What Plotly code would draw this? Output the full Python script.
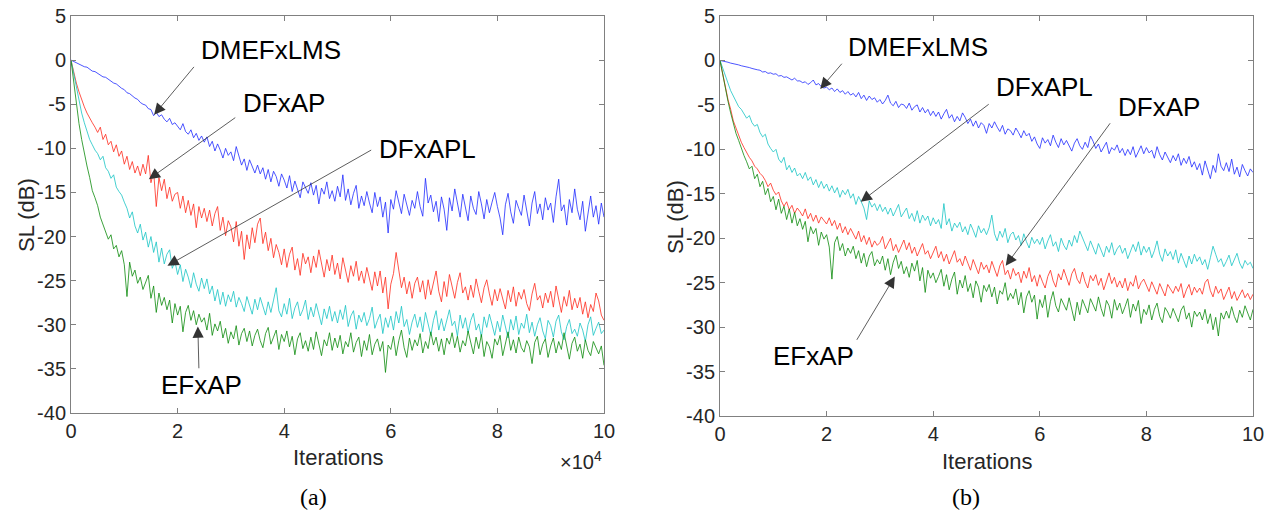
import plotly.graph_objects as go

# sample positions (iterations), one every 500 iterations
iters = [500 * k for k in range(201)]

# ---- panel (a) ----
a_dmefxlms = [
    0, -0.15, -0.3, -0.4, -0.55, -0.75, -0.8, -1.05, -1.25, -1.3,
    -1.5, -1.6, -1.9, -1.95, -2.2, -2.35, -2.6, -2.7, -3.0, -3.2,
    -3.35, -3.7, -3.8, -4.1, -4.3, -4.45, -4.8, -5.0, -5.1, -5.5,
    -5.6, -6.3, -5.9, -6.4, -6.2, -6.7, -7.0, -6.6, -7.3, -7.1,
    -7.5, -7.9, -7.2, -8.1, -8.4, -7.9, -8.8, -8.3, -9.1, -8.6,
    -9.3, -8.7, -9.8, -9.2, -10.3, -9.5, -10.2, -11.1, -10.0, -10.8,
    -10.4, -11.4, -9.8, -11.0, -11.9, -11.2, -12.5, -11.3, -12.0, -12.8,
    -11.9, -12.9, -12.2, -13.5, -12.4, -13.8, -12.6, -13.2, -14.3, -12.9,
    -13.6, -14.5, -13.1, -14.9, -13.7, -14.6, -15.6, -13.8, -14.4, -15.1,
    -13.9, -15.3, -14.2, -16.3, -14.5, -15.2, -13.8, -15.7, -14.8, -16.0,
    -14.3, -15.5, -13.0, -15.9, -14.6, -16.4, -15.1, -14.2, -16.8, -15.4,
    -16.5, -14.9, -16.2, -17.3, -15.0, -16.6, -15.5, -17.8, -16.1, -19.6,
    -15.8, -16.9, -14.8, -16.3, -17.4, -15.2, -16.5, -17.6, -15.9, -16.8,
    -14.9, -16.6, -17.7, -13.4, -16.2, -15.3, -17.2, -16.0, -18.3, -15.5,
    -16.9, -19.3, -15.6, -17.1, -14.6, -16.4, -17.8, -15.2, -16.7, -18.2,
    -15.4, -16.8, -17.5, -14.9, -16.3, -18.0, -15.8, -17.3, -16.1, -15.0,
    -16.6, -17.9, -19.8, -16.4, -15.1, -17.2, -18.5, -15.9, -16.8, -17.6,
    -15.3, -16.9, -18.8, -16.2, -14.9, -17.4, -16.3, -18.1, -15.6, -17.0,
    -16.2, -18.4, -15.5, -13.5, -17.1, -16.4, -18.7, -15.8, -17.3, -14.6,
    -16.9, -18.1, -16.0, -19.4, -17.5, -15.4, -17.8, -16.5, -18.6, -16.2,
    -17.8,
]
a_dfxap = [
    0, -1.4, -2.6, -3.6, -4.5, -5.3, -6.0, -6.6, -7.1, -7.6,
    -8.2, -7.6, -9.0, -8.4, -9.6, -9.2, -10.4, -9.6, -10.9, -10.3,
    -11.8, -10.9, -12.4, -11.5, -12.8, -12.0, -13.1, -11.8, -12.9, -10.8,
    -13.9, -12.6, -16.6, -13.3, -14.8, -13.5, -15.7, -14.4, -16.0, -15.2,
    -15.0, -16.8, -15.4, -17.3, -15.9, -17.6, -16.3, -19.0, -16.6, -17.9,
    -16.8, -18.3, -17.0, -18.8, -17.4, -16.6, -19.3, -17.8, -19.9, -18.2,
    -18.9, -20.6, -18.3, -21.1, -19.4, -22.6, -19.8, -21.4, -19.0, -20.7,
    -18.6, -17.9, -20.8, -19.5, -21.6, -20.2, -22.4, -20.9, -21.8, -23.2,
    -21.4, -23.5, -22.0, -21.2, -23.8, -22.5, -24.4, -21.9, -23.1, -22.3,
    -24.1, -22.2, -23.5, -21.5, -23.0, -24.6, -22.6, -23.9, -22.1, -24.3,
    -23.0, -24.8, -22.4, -23.7, -25.2, -23.3, -24.5, -22.8, -25.0, -23.9,
    -25.3, -23.5, -24.8, -26.1, -24.0, -25.6, -23.9, -26.4, -24.6, -28.2,
    -25.4, -24.2, -21.8, -23.9, -25.8, -24.6, -26.5, -25.1, -27.0, -25.3,
    -24.6, -26.3, -25.0, -27.1, -24.9, -26.6, -25.4, -23.9, -26.2, -27.4,
    -25.1, -26.8, -24.3, -25.6, -27.0, -25.2, -24.1, -26.4, -25.7, -27.2,
    -25.5, -26.9, -24.8, -26.2, -27.5, -25.8, -24.9, -26.5, -27.8, -26.0,
    -27.3, -25.9, -27.0, -28.2, -26.1, -27.4, -25.7, -27.9, -26.3, -27.1,
    -26.0, -27.6, -28.4, -26.5, -25.3, -27.2, -26.7, -28.1, -26.4, -27.5,
    -26.2, -28.0, -25.6, -27.3, -28.6, -26.8, -27.9, -26.1, -28.3, -27.0,
    -28.1, -26.9, -28.8, -27.4, -29.2, -27.7, -28.5, -26.4, -27.3, -28.9,
    -29.5,
]
a_dfxapl = [
    0, -1.6, -3.1, -4.6, -6.0, -7.1, -8.2, -9.0, -9.6, -10.2,
    -10.6, -11.3, -10.9, -12.2, -12.6, -13.4, -13.0, -14.4, -14.9, -15.3,
    -16.1, -16.8, -17.9, -17.2, -18.8, -19.6, -18.6, -20.4, -19.5, -21.2,
    -20.0, -21.8, -20.6, -22.9, -21.3, -23.1, -22.0, -21.5, -23.6, -22.8,
    -24.3, -23.2, -25.1, -23.7, -24.6, -25.8, -24.1, -25.4, -26.2, -24.7,
    -25.9, -24.8, -26.5, -25.6, -27.3, -26.0, -27.7, -26.3, -27.9, -26.6,
    -27.4, -26.2, -28.0, -26.9, -27.6, -28.5, -26.8, -27.9, -28.8, -27.1,
    -28.3, -26.9, -27.8, -28.9, -27.4, -28.6, -27.2, -25.8, -28.4, -29.1,
    -27.6, -28.8, -27.0, -29.3, -28.1, -27.4, -29.0, -28.3, -27.2, -29.4,
    -28.0, -29.1, -27.6, -28.7, -30.0, -28.2, -29.3, -27.9, -29.6, -28.5,
    -29.8, -28.3, -29.4, -27.8, -30.2, -29.0, -28.4, -30.5, -28.9, -29.7,
    -28.6, -30.1, -29.3, -28.0, -30.4, -29.5, -28.8, -31.0, -29.2, -30.3,
    -29.0, -30.6, -28.5, -29.8, -27.9, -30.2, -29.4, -31.1, -29.7, -28.8,
    -30.3, -29.1, -30.8, -28.6, -29.9, -31.2, -29.5, -28.4, -30.6, -29.3,
    -30.7, -29.4, -28.3, -30.1, -29.6, -31.3, -28.9, -30.4, -29.2, -30.9,
    -29.5, -28.7, -30.6, -29.9, -31.4, -29.1, -30.3, -28.8, -30.0, -31.2,
    -29.6, -30.8, -28.9, -30.2, -31.5, -29.4, -30.6, -29.0, -31.1, -29.8,
    -30.4, -28.8, -30.9, -29.7, -31.3, -30.0, -29.2, -30.7, -31.6, -29.5,
    -30.1, -31.4, -29.6, -28.9, -30.8, -31.7, -30.2, -29.4, -31.0, -30.5,
    -31.3, -29.8, -30.6, -31.9, -30.0, -29.1, -31.2, -30.4, -29.7, -31.0,
    -30.6,
]
a_efxap = [
    0, -2.6, -5.0, -7.2, -9.0, -10.6, -12.0, -13.3, -14.8, -15.6,
    -16.5, -17.8, -18.6, -19.4, -20.3, -19.8, -21.4, -21.0, -22.3, -21.6,
    -23.2, -26.8, -22.9, -24.5, -23.8, -25.3, -24.6, -26.0, -25.2, -24.4,
    -27.0, -25.6, -28.6, -26.4, -27.8, -26.9, -28.3, -27.2, -29.8, -27.6,
    -28.9, -27.9, -30.8, -28.6, -27.8, -29.5, -28.4, -30.0, -28.8, -29.7,
    -29.2, -30.6, -28.7, -31.2, -29.9, -30.7, -29.6, -31.5, -30.4, -32.1,
    -30.8, -31.6, -30.1, -32.3, -31.0, -30.4, -31.9, -30.7, -32.4, -31.2,
    -30.5, -31.8, -32.6, -31.0, -30.3, -32.2, -31.4, -30.6, -32.8, -31.1,
    -31.9, -30.7, -32.5, -31.3, -33.4, -31.6, -30.9, -32.7, -31.8, -33.0,
    -31.4, -32.8, -30.8, -32.1, -33.5, -31.7, -32.4, -30.9, -32.9, -31.5,
    -32.6, -31.2, -33.3, -31.9, -32.5, -30.9, -33.1, -32.0, -31.4, -33.6,
    -31.8, -32.9, -31.1, -33.4, -32.2, -31.6, -33.0, -31.9, -35.4, -32.3,
    -32.8, -31.3, -33.5, -31.8, -30.6, -32.6, -33.7, -31.5, -32.9, -31.7,
    -32.4, -31.0, -33.2, -31.9, -32.7, -30.8, -32.3, -31.4, -33.0, -31.6,
    -33.4, -31.5, -32.2, -30.9, -32.6, -31.3, -33.1, -31.8, -32.4, -30.7,
    -32.0, -33.3, -31.4, -32.7, -31.1, -33.6, -31.9, -32.5, -33.8, -31.6,
    -32.3, -31.2, -33.5, -32.0, -30.8, -32.9, -31.7, -33.2, -31.4, -32.6,
    -33.1, -31.8, -32.5, -34.4, -32.0, -31.3, -33.4, -32.2, -31.6, -33.7,
    -32.4, -31.5, -33.2, -31.9, -32.8, -30.9, -32.6, -33.9, -32.1, -31.4,
    -33.0, -32.2, -33.8, -31.7, -32.9, -33.5, -31.9, -32.6, -33.3, -32.4,
    -34.6,
]

# ---- panel (b) ----
b_dmefxlms = [
    0, -0.05, -0.15, -0.2, -0.3, -0.35, -0.45, -0.5, -0.6, -0.65,
    -0.75, -0.8, -0.9, -1.0, -1.05, -1.1, -1.3, -1.25, -1.45, -1.4,
    -1.55, -1.5, -1.75, -1.7, -1.9, -1.85, -2.05, -2.2, -2.0, -2.3,
    -2.3, -2.5, -2.4, -2.7, -2.5, -2.2, -2.75, -2.6, -2.95, -3.1,
    -3.0, -3.3, -3.1, -3.5, -3.2, -3.6, -3.4, -3.8, -3.5, -3.9,
    -3.7, -4.1, -3.6, -4.3, -3.9, -4.5, -4.0, -4.4, -4.2, -4.7,
    -4.4, -4.9, -4.5, -3.9, -4.8, -5.1, -4.6, -5.3, -4.9, -5.0,
    -5.4, -4.8, -5.6, -5.2, -5.0, -5.8, -5.3, -5.9, -5.5, -6.2,
    -5.7, -6.3, -5.8, -6.6, -6.0, -5.5, -6.5, -6.1, -6.9, -6.3,
    -6.8, -5.9, -6.4, -7.1, -6.6, -7.4, -6.8, -7.6, -7.0, -7.3,
    -8.2, -7.1, -7.6, -6.9, -7.5, -8.0, -7.3, -8.3, -7.7, -7.9,
    -8.4, -7.6, -8.1, -8.7, -7.9, -8.5, -8.2, -9.1, -8.6, -9.4,
    -9.9, -8.7, -9.3, -8.9, -9.6, -8.4, -9.2, -9.8, -8.8, -9.5,
    -9.0, -9.7, -10.2, -9.3, -8.8, -9.6, -10.0, -9.2, -9.8, -8.5,
    -9.1, -9.9, -9.4, -10.3, -9.7, -9.2, -10.5, -9.8, -10.1, -9.5,
    -10.4, -9.9, -10.7, -10.0, -10.6, -9.7, -10.9, -10.2, -9.6, -10.5,
    -9.8, -10.4, -10.1, -11.0, -9.7, -10.6, -11.2, -10.3, -10.9, -11.5,
    -10.7, -11.3, -10.5, -11.8, -11.0, -11.6, -10.8, -12.0, -11.4, -12.3,
    -11.6, -12.9, -11.3, -12.2, -13.3, -11.8, -12.6, -10.5, -11.9, -12.4,
    -11.5, -12.5, -11.1, -12.8, -12.0, -13.1, -11.7, -12.4, -13.0, -12.2,
    -12.6,
]
b_dfxapl = [
    0, -0.9, -1.8, -2.7, -3.4, -4.0, -4.6, -5.2, -5.5, -6.0,
    -6.5, -6.2, -7.0, -7.4, -7.2, -8.1, -8.6, -8.3, -9.4, -9.9,
    -10.3, -10.0, -11.1, -11.5, -10.9, -12.3, -11.8, -12.6, -12.1, -13.0,
    -12.7, -13.3, -12.6, -13.5, -13.1, -14.0, -13.4, -14.3, -13.6, -14.4,
    -13.9, -14.7, -14.1, -14.9, -14.3, -15.4, -14.6, -15.1, -14.5, -15.5,
    -15.0, -16.2, -15.3, -15.9, -16.6, -17.9, -15.8, -16.5, -16.1, -16.9,
    -16.2, -17.0, -16.5, -17.3, -16.6, -17.5, -16.8, -16.2, -17.6, -17.1,
    -16.6, -17.8, -17.2, -18.1, -16.9, -18.3, -17.4, -18.0, -17.5, -18.6,
    -17.7, -18.4, -17.9, -18.9, -16.1, -18.5, -17.8, -19.2, -18.3, -18.8,
    -18.2, -19.3, -18.7, -19.6, -18.4, -19.1, -19.9, -18.6, -19.4, -18.9,
    -19.6, -18.8, -17.4, -19.5, -20.3, -19.2, -19.9, -18.9, -20.5, -19.6,
    -19.3, -20.2, -19.7, -20.8, -19.5, -20.4, -21.1, -19.9, -20.6, -20.1,
    -20.7, -19.9, -21.2, -20.3, -19.6, -20.9, -20.4, -21.5, -20.0, -20.8,
    -21.3, -20.2, -20.9, -19.7, -20.5, -19.2, -19.9, -20.8, -21.4, -20.3,
    -21.0, -21.8, -20.6, -21.3, -22.1, -20.9, -21.6, -20.5, -21.9, -21.2,
    -20.8, -21.7, -21.1, -22.3, -21.4, -20.7, -21.5, -20.4, -21.9, -20.9,
    -21.6, -21.0, -22.2, -21.4, -20.3, -21.8, -22.6, -21.2, -22.0, -21.5,
    -22.4, -21.3, -22.8, -21.7, -22.5, -23.3, -22.0, -22.9, -21.8, -22.6,
    -22.1, -23.0, -22.4, -23.5, -22.2, -20.9, -21.8, -22.7, -22.3, -23.2,
    -22.6, -21.9, -23.1, -22.4, -21.7, -22.8, -23.4, -22.5, -23.0, -22.7,
    -23.4,
]
b_dfxap = [
    0, -1.5, -3.0, -4.4, -5.5, -6.8, -7.6, -8.5, -9.2, -9.8,
    -10.4, -10.9, -11.3, -11.9, -12.2, -12.7, -13.0, -13.5, -14.2, -13.8,
    -14.6, -15.1, -14.8, -15.8, -16.4, -15.9, -16.8, -16.3, -17.2, -16.6,
    -17.0, -17.5, -16.7, -17.8, -17.2, -18.1, -17.4, -18.3, -17.6, -18.0,
    -18.4, -17.7, -18.6, -18.0, -19.0, -18.3, -19.4, -18.7, -19.6, -18.9,
    -19.5, -20.1, -19.2, -20.4, -19.7, -20.7, -19.9, -21.0, -20.3, -20.8,
    -20.5, -19.8, -21.2, -20.6, -20.0, -21.4, -20.7, -21.6, -20.9, -20.2,
    -21.3, -20.5, -21.7, -21.0, -22.0, -21.2, -20.6, -21.8, -21.4, -22.3,
    -21.6, -20.9, -22.2, -21.5, -22.6, -21.8, -22.9, -22.1, -21.4, -22.7,
    -22.3, -23.1, -22.0, -22.8, -23.6, -22.4, -23.2, -24.0, -22.7, -23.5,
    -23.0, -23.9, -22.6, -23.4, -24.3, -23.1, -22.5, -24.1, -23.6, -24.6,
    -23.4, -24.2, -23.8, -25.0, -23.7, -24.5, -23.3, -24.9, -24.2, -25.4,
    -24.1, -24.9, -25.6, -24.3, -23.6, -24.8, -25.5, -24.0, -24.7, -23.5,
    -24.4, -25.3, -24.0, -23.4, -24.6, -25.1, -23.8, -24.9, -25.6, -24.2,
    -24.8, -24.1, -25.3, -24.5, -25.8, -24.7, -23.9, -25.1, -24.4, -25.5,
    -24.8, -25.6, -24.5, -25.9, -24.9, -25.4, -24.2, -25.7, -25.0, -24.6,
    -25.3, -26.0, -24.9, -25.6, -26.3, -25.1, -25.8, -26.5, -25.2, -25.7,
    -26.2, -25.4, -26.0, -25.1, -26.7, -25.8, -25.2, -26.4, -25.5, -26.1,
    -25.6, -26.3, -25.0, -24.6, -25.9, -26.6, -25.4, -26.2, -25.7, -26.9,
    -26.1, -25.5, -26.8, -26.0, -27.0, -26.3, -25.8, -26.7, -26.2, -26.9,
    -26.3,
]
b_efxap = [
    0, -1.6, -3.2, -4.6, -5.9, -7.1, -8.2, -9.0, -9.9, -10.7,
    -11.4, -12.2, -11.9, -13.3, -12.8, -14.2, -13.6, -15.1, -14.4, -15.9,
    -15.3, -16.8, -15.6, -17.2, -16.4, -17.9, -16.7, -18.3, -17.1, -18.6,
    -17.8, -19.0, -18.1, -20.4, -18.7, -19.5, -18.9, -20.8, -19.3, -20.1,
    -19.6, -21.0, -24.6, -20.5, -19.8, -21.4, -20.6, -22.0, -21.1, -21.7,
    -20.9, -22.3, -21.4, -22.8, -21.7, -23.2, -22.0, -21.5, -23.1, -22.4,
    -22.9, -22.0, -23.6, -22.3, -24.1, -22.7, -21.9, -23.4, -22.6, -24.0,
    -23.2, -24.4, -22.8, -23.7, -22.5, -24.8, -23.3, -26.1, -23.6, -24.5,
    -23.9, -25.0, -24.3, -23.5, -25.4, -24.1, -25.8, -24.6, -23.8, -26.3,
    -24.7, -25.6, -24.2, -26.0, -25.1, -26.7, -24.8, -25.5, -27.2, -25.3,
    -26.0, -25.2, -26.6, -25.5, -27.4, -25.9, -26.3, -25.0, -27.0, -26.2,
    -26.8, -25.7, -27.5, -26.1, -28.4, -26.6, -25.9, -27.2, -26.4, -29.1,
    -26.9, -27.8, -26.4, -28.9, -27.1, -26.0, -27.6, -28.3, -26.8, -27.4,
    -28.1, -26.7, -27.9, -29.3, -27.2, -28.6, -26.9, -27.7, -28.4, -26.8,
    -27.5, -28.2, -26.6, -27.9, -28.8, -27.0, -27.6, -29.0, -26.9, -28.1,
    -27.3, -28.5, -27.7, -26.8, -28.9, -27.4, -28.2, -27.0, -29.6, -28.0,
    -28.6, -27.5, -29.2, -28.0, -27.3, -28.8, -29.5, -27.8, -28.3, -29.0,
    -27.9, -28.7, -29.4, -28.1, -27.6, -29.1, -28.4, -30.0, -28.2, -28.8,
    -28.3, -29.2, -28.0, -29.6, -28.5, -30.3, -28.9, -31.0, -28.4, -29.1,
    -28.2, -29.0, -27.7, -28.8, -29.5, -28.1, -28.9, -27.6, -28.5, -29.2,
    -28.0,
]

colors = {"DMEFxLMS": "#1f2bff", "DFxAP": "#ff2a1c", "DFxAPL": "#17c4c4", "EFxAP": "#0b8a0b"}

panels = [
    ("x", "y", [("DMEFxLMS", a_dmefxlms), ("DFxAP", a_dfxap),
                ("DFxAPL", a_dfxapl), ("EFxAP", a_efxap)]),
    ("x2", "y2", [("DMEFxLMS", b_dmefxlms), ("DFxAP", b_dfxap),
                  ("DFxAPL", b_dfxapl), ("EFxAP", b_efxap)]),
]

fig = go.Figure()
for xa, ya, series in panels:
    for name, vals in series:
        fig.add_trace(go.Scatter(
            x=iters, y=vals, mode="lines", name=name,
            line=dict(color=colors[name], width=0.8),
            xaxis=xa, yaxis=ya, showlegend=False,
        ))

x_ticks = [0, 20000, 40000, 60000, 80000, 100000]
x_text = ["0", "2", "4", "6", "8", "10"]
y_ticks = [5, 0, -5, -10, -15, -20, -25, -30, -35, -40]
y_text = ["5", "0", "-5", "-10", "-15", "-20", "-25", "-30", "-35", "-40"]

tick_font = dict(family="Liberation Sans, Arial, sans-serif", size=20, color="#262626")
box = dict(showline=True, linecolor="#808080", linewidth=1, mirror="ticks",
           ticks="inside", ticklen=5, tickcolor="#808080", showgrid=False,
           zeroline=False, tickfont=tick_font, automargin=False)

# figure fills the whole page (body margin removed below); positions in pixels
W, H = 1275, 519


def fx(xp):
    return xp / W


def fy(yp):
    return 1 - yp / H


fig.update_layout(
    width=W, height=H,
    margin=dict(l=0, r=0, t=0, b=0, autoexpand=False),
    paper_bgcolor="white", plot_bgcolor="white",
    xaxis=dict(domain=[fx(71), fx(604)], range=[0, 100000], tickvals=x_ticks,
               ticktext=x_text, anchor="y", **box),
    yaxis=dict(domain=[fy(413), fy(16)], range=[-40, 5], tickvals=y_ticks,
               ticktext=y_text, anchor="x", **box),
    xaxis2=dict(domain=[fx(720), fx(1253)], range=[0, 100000], tickvals=x_ticks,
                ticktext=x_text, anchor="y2", **box),
    yaxis2=dict(domain=[fy(416), fy(16)], range=[-40, 5], tickvals=y_ticks,
                ticktext=y_text, anchor="x2", **box),
)

label_font = dict(family="Liberation Sans, Arial, sans-serif", size=26, color="black")

# curve labels (text centre) and arrows (tail -> head), in data units
labels = [
    ("x", "y", "DMEFxLMS", 37500, 1.2, (23300, -0.6), (15600, -6.2)),
    ("x", "y", "DFxAP", 40000, -4.9, (31100, -6.4), (14600, -13.5)),
    ("x", "y", "DFxAPL", 66800, -10.1, (56600, -10.1), (18100, -23.3)),
    ("x", "y", "EFxAP", 24500, -36.8, (24000, -35.1), (23800, -30.2)),
    ("x2", "y2", "DMEFxLMS", 37200, 1.5, (23100, -0.2), (18800, -3.2)),
    ("x2", "y2", "DFxAPL", 60900, -3.0, (50700, -4.8), (26400, -15.9)),
    ("x2", "y2", "DFxAP", 82400, -5.2, (73400, -6.9), (53600, -23.1)),
    ("x2", "y2", "EFxAP", 17600, -33.3, (25500, -31.6), (32800, -24.3)),
]
for xr, yr, txt, tx, ty, tail, head in labels:
    fig.add_annotation(x=tx, y=ty, xref=xr, yref=yr, text=txt, showarrow=False,
                       font=label_font, xanchor="center", yanchor="middle")
    fig.add_annotation(x=head[0], y=head[1], ax=tail[0], ay=tail[1],
                       xref=xr, yref=yr, axref=xr, ayref=yr, text="",
                       showarrow=True, arrowhead=2, arrowsize=2.8,
                       arrowwidth=0.8, arrowcolor="#333333", standoff=0)

title_font = dict(family="Liberation Sans, Arial, sans-serif", size=22, color="#262626")
serif_font = dict(family="Liberation Serif, Times New Roman, serif", size=24, color="black")

for text, xp, yp, font, angle in [
    ("Iterations", 338, 457, title_font, 0),
    ("Iterations", 987, 461, title_font, 0),
    ("SL (dB)", 26, 215, title_font, -90),
    ("SL (dB)", 675, 217, title_font, -90),
    ("(a)", 313, 497, serif_font, 0),
    ("(b)", 966, 497, serif_font, 0),
]:
    fig.add_annotation(x=fx(xp), y=fy(yp), xref="paper", yref="paper", text=text,
                       showarrow=False, font=font, textangle=angle,
                       xanchor="center", yanchor="middle")

fig.add_annotation(x=fx(604), y=fy(460), xref="paper", yref="paper",
                   text="×10<sup>4</sup>", showarrow=False,
                   font=dict(family="Liberation Sans, Arial, sans-serif", size=20, color="#262626"),
                   xanchor="right", yanchor="middle")

fig.write_html("out.html", config={"displayModeBar": False},
               post_script="document.body.style.margin = '0';")
